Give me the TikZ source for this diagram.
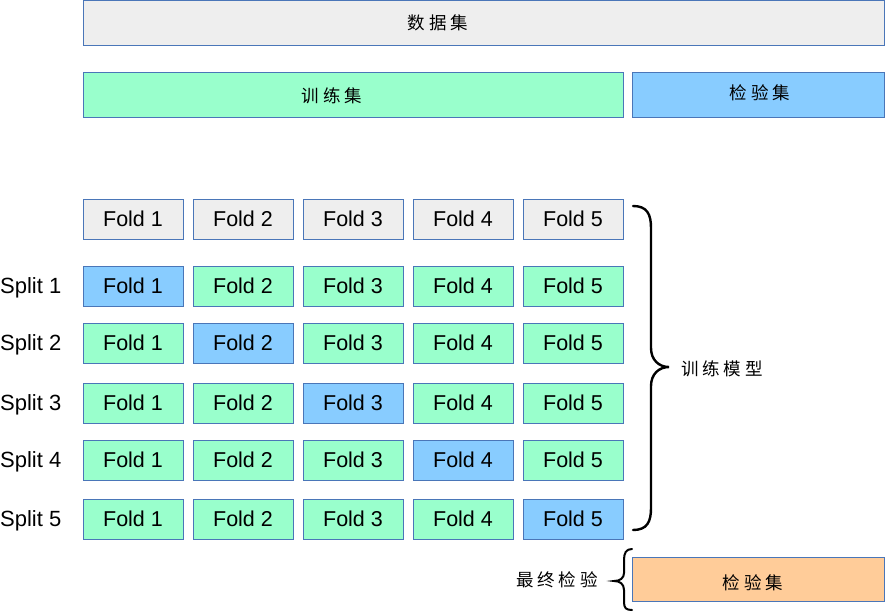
\documentclass[tikz,border=0pt]{standalone}
\usepackage{fontspec}
\setmainfont{Liberation Sans}
\newfontfamily\cjk{Noto Sans CJK SC}
\definecolor{bordc}{HTML}{4A76B8}
\definecolor{grayf}{HTML}{EEEEEE}
\definecolor{greenf}{HTML}{99FFCC}
\definecolor{bluef}{HTML}{88CCFF}
\definecolor{orangef}{HTML}{FFCC99}
\tikzset{
  box/.style={draw=bordc, line width=0.9pt, minimum width=100pt, minimum height=40pt, inner sep=0pt, font=\fontsize{21.5}{24}\selectfont},
  gbox/.style={box, fill=grayf},
  tbox/.style={box, fill=greenf},
  vbox/.style={box, fill=bluef},
  bigbox/.style={draw=bordc, line width=0.9pt, inner sep=0pt},
  cjklbl/.style={font=\cjk\fontsize{17.5}{20}\selectfont, inner sep=0pt},
  splitlbl/.style={anchor=west, inner sep=0pt, font=\fontsize{22}{24}\selectfont},
  bracel/.style={line width=2.4pt, line cap=round}
}
\begin{document}
\begin{tikzpicture}[x=1pt,y=-1pt]
\useasboundingbox (0,0) rectangle (885,613);
% top boxes
\node[bigbox, fill=grayf, minimum width=801pt, minimum height=45pt] (data) at (483.5,22.5) {};
\node[cjklbl] (datalbl) at (438,23) {数 据 集};
\node[bigbox, fill=greenf, minimum width=540pt, minimum height=45pt] (train) at (353,94.5) {};
\node[cjklbl] (trainlbl) at (332,96) {训 练 集};
\node[bigbox, fill=bluef, minimum width=252pt, minimum height=45pt] (test) at (758,94.5) {};
\node[cjklbl] (testlbl) at (760,93) {检 验 集};
% header row
\foreach \i/\x in {1/133,2/243,3/353,4/463,5/573}{
  \node[gbox] (h\i) at (\x,219) {Fold \i};
}
% split rows
\foreach \r/\y in {1/286,2/343,3/403,4/460,5/519}{
  \node[splitlbl] (s\r) at (0,\y+1.5) {Split \r};
  \foreach \i/\x in {1/133,2/243,3/353,4/463,5/573}{
    \ifnum\i=\r
      \node[vbox] (f\r\i) at (\x,\y) {Fold \i};
    \else
      \node[tbox] (f\r\i) at (\x,\y) {Fold \i};
    \fi
  }
}
% big brace
\draw[bracel] (633,206) .. controls (647,206) and (651,214) .. (651,228) -- (651,348)
  .. controls (651,360) and (659,367) .. (669,367)
  .. controls (659,367) and (651,374) .. (651,386) -- (651,508)
  .. controls (651,522) and (647,530) .. (633,530);
\node[cjklbl] (model) at (722,369) {训 练 模 型};
% final test
\node[bigbox, fill=orangef, minimum width=252pt, minimum height=44pt] (final) at (758,579) {};
\node[cjklbl] (finallbl) at (753,583) {检 验 集};
\draw[bracel, line width=2pt] (632,549) .. controls (626,549) and (624,553) .. (624,560) -- (624,573)
  .. controls (624,578) and (620,581) .. (614,581)
  .. controls (620,581) and (624,584) .. (624,590) -- (624,602)
  .. controls (624,608) and (626,610) .. (632,610);
\node[cjklbl] (finalt) at (557,580) {最 终 检 验};
\end{tikzpicture}
\end{document}
